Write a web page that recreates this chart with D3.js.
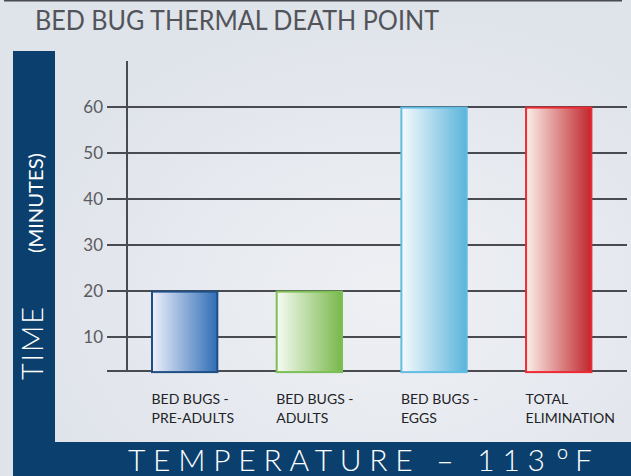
<!DOCTYPE html>
<html>
<head>
<meta charset="utf-8">
<script src="https://cdn.jsdelivr.net/npm/d3@7"></script>
<style>
  html, body { margin: 0; padding: 0; background: #e1e5ec; }
  svg { display: block; }
</style>
</head>
<body>
<svg id="chart" width="631" height="476"></svg>
<script>
// ---- data ----
const categories = [
  ["BED BUGS -", "PRE-ADULTS"],
  ["BED BUGS -", "ADULTS"],
  ["BED BUGS -", "EGGS"],
  ["TOTAL", "ELIMINATION"]
];
const values = [20, 20, 60, 60];
const tickValues = [10, 20, 30, 40, 50, 60];
const baseValue = 2.5;
const title = "BED BUG THERMAL DEATH POINT";
const yTitleMain = "TIME";
const yTitleSub = "(MINUTES)";
const xTitleMain = "TEMPERATURE \u2013 113";
const xTitleUnit = ["\u00BA", "F"];
const barColors = [
  { light: "#eef0fb", dark: "#2f6db6", stroke: "#1f4f85" },
  { light: "#f7fbf3", dark: "#79b84b", stroke: "#7dbf55" },
  { light: "#f6fafd", dark: "#5ab4db", stroke: "#62bde3" },
  { light: "#fbefe9", dark: "#c0262d", stroke: "#ee2a35" }
];

const svg = d3.select("#chart");
const defs = svg.append("defs");
const font = "Lato, 'Open Sans', sans-serif";

// background
const bg = defs.append("radialGradient").attr("id", "bg")
  .attr("cx", "0.62").attr("cy", "0.62").attr("r", "0.6");
bg.append("stop").attr("offset", "0").attr("stop-color", "#eef0f4");
bg.append("stop").attr("offset", "0.6").attr("stop-color", "#e6e9ef");
bg.append("stop").attr("offset", "1").attr("stop-color", "#dfe3ea");
svg.append("rect").attr("width", 631).attr("height", 476).attr("fill", "url(#bg)");

// top rule
svg.append("line").attr("x1", 4).attr("x2", 622).attr("y1", 0.75).attr("y2", 0.75)
  .attr("stroke", "#4a4b50").attr("stroke-width", 1.5);

// title
svg.append("text").attr("x", 35).attr("y", 30)
  .attr("font-family", font).attr("font-size", 26).attr("font-weight", 400)
  .attr("fill", "#535459").attr("textLength", 404).attr("lengthAdjust", "spacingAndGlyphs")
  .text(title);

// navy bands
const navy = "#0b3f6d";
svg.append("rect").attr("x", 13).attr("y", 51).attr("width", 42).attr("height", 425).attr("fill", navy);
svg.append("rect").attr("x", 13).attr("y", 442).attr("width", 618).attr("height", 34).attr("fill", navy);

// y title
const yt = svg.append("g").attr("font-family", font).attr("fill", "#ffffff");
yt.append("text").attr("transform", "translate(42.5,380) rotate(-90)")
  .attr("font-size", 29).attr("font-weight", 300)
  .attr("textLength", 73).attr("lengthAdjust", "spacing")
  .text(yTitleMain);
yt.append("text").attr("transform", "translate(42.5,253) rotate(-90)")
  .attr("font-size", 19).attr("font-weight", 400)
  .attr("textLength", 100).attr("lengthAdjust", "spacingAndGlyphs")
  .text(yTitleSub);

// x title
const xg = svg.append("g").attr("font-family", font).attr("font-weight", 300).attr("fill", "#ffffff");
xg.append("text").attr("x", 128).attr("y", 471).attr("font-size", 30)
  .attr("textLength", 417).attr("lengthAdjust", "spacing").text(xTitleMain);
xg.append("text").attr("x", 556).attr("y", 472.5).attr("font-size", 34)
  .attr("textLength", 13).attr("lengthAdjust", "spacingAndGlyphs").text(xTitleUnit[0]);
xg.append("text").attr("x", 575).attr("y", 471).attr("font-size", 30).text(xTitleUnit[1]);

// scales
const y = d3.scaleLinear().domain([0, 60]).range([382.6, 106.6]);
const x = d3.scaleBand().domain(d3.range(categories.length))
  .range([127, 616.4]).paddingInner(0.46).paddingOuter(0.1925);

const axisColor = "#4a4b50";
const gridLeft = 107, gridRight = 627;

// gridlines + tick labels via axis
const axis = d3.axisLeft(y).tickValues(tickValues).tickFormat(d3.format("d"))
  .tickSizeInner(-(gridRight - gridLeft)).tickSizeOuter(0).tickPadding(4);
const ag = svg.append("g").attr("transform", `translate(${gridLeft},0)`).call(axis);
ag.select(".domain").remove();
ag.selectAll(".tick line").attr("stroke", axisColor).attr("stroke-width", 2);
ag.selectAll(".tick text").attr("fill", "#5a5b60")
  .attr("font-family", font).attr("font-size", 17);

// baseline and vertical axis
svg.append("line").attr("x1", gridLeft).attr("x2", gridRight)
  .attr("y1", y(baseValue)).attr("y2", y(baseValue))
  .attr("stroke", axisColor).attr("stroke-width", 2);
svg.append("line").attr("x1", 127).attr("x2", 127)
  .attr("y1", 61).attr("y2", y(baseValue) + 1)
  .attr("stroke", axisColor).attr("stroke-width", 2);

// gradients
barColors.forEach((c, i) => {
  const g = defs.append("linearGradient").attr("id", "bar" + i)
    .attr("x1", 0).attr("x2", 1).attr("y1", 0).attr("y2", 0);
  g.append("stop").attr("offset", "0").attr("stop-color", c.light);
  g.append("stop").attr("offset", "1").attr("stop-color", c.dark);
});

// bars
svg.append("g").selectAll("rect").data(values).join("rect")
  .attr("x", (d, i) => x(i) + 1)
  .attr("width", x.bandwidth() - 2)
  .attr("y", d => y(d) + 1)
  .attr("height", d => y(baseValue) - y(d))
  .attr("fill", (d, i) => `url(#bar${i})`)
  .attr("stroke", (d, i) => barColors[i].stroke)
  .attr("stroke-width", 2);

// category labels
const lab = svg.append("g").attr("font-family", font)
  .attr("font-size", 14).attr("fill", "#222326");
categories.forEach((lines, i) => {
  lines.forEach((t, j) => {
    lab.append("text").attr("x", x(i) + 0.5).attr("y", 403.5 + j * 19.2).text(t);
  });
});
</script>
</body>
</html>
